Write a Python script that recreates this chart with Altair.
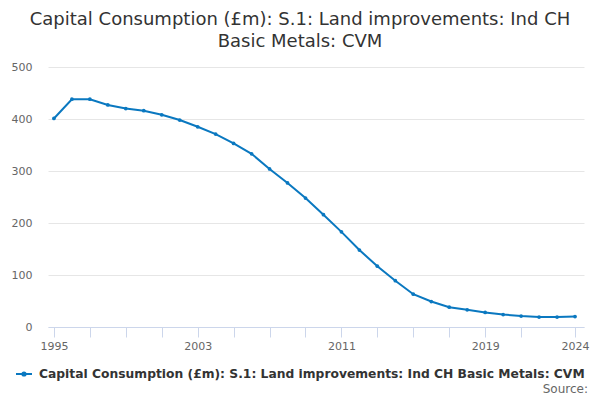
import altair as alt
import pandas as pd

years = list(range(1995, 2025))
values = [401, 438, 438, 427, 420, 416, 408, 398, 385, 371, 353, 333, 304, 277, 248, 216,
          183, 148, 117, 89, 63, 49, 38, 33, 28, 24, 21, 19, 19, 20]
series_name = "Capital Consumption (£m): S.1: Land improvements: Ind CH Basic Metals: CVM"
tick_years = [1995, 1997, 1999, 2001, 2003, 2005, 2007, 2009, 2011, 2013, 2015, 2017, 2019, 2021, 2024]
label_years = [1995, 2003, 2011, 2019, 2024]
y_ticks = [0, 100, 200, 300, 400, 500]
title_lines = ["Capital Consumption (£m): S.1: Land improvements: Ind CH", "Basic Metals: CVM"]
source_text = ["Source:"]

df = pd.DataFrame({"year": years, "value": values, "series": series_name})
src = pd.DataFrame({"t": source_text})

LINE_COLOR = "#0a78c0"
FONT = "DejaVu Sans"

label_expr = "(" + " || ".join("datum.value == %d" % y for y in label_years) + ") ? format(datum.value, 'd') : ''"

x = alt.X("year:Q",
          scale=alt.Scale(domain=[1994.67, 2024.5], nice=False, zero=False),
          axis=alt.Axis(title=None, values=tick_years, labelExpr=label_expr, grid=False,
                        domainColor="#ccd6eb", tickColor="#ccd6eb", tickSize=10,
                        labelColor="#666666", labelFontSize=11, labelFont=FONT,
                        labelPadding=3, labelFlush=False, labelOverlap=False))
y = alt.Y("value:Q",
          scale=alt.Scale(domain=[0, 500], nice=False),
          axis=alt.Axis(title=None, values=y_ticks, grid=True, gridColor="#e6e6e6",
                        domain=False, ticks=False, labelColor="#666666", labelFontSize=11,
                        labelFont=FONT, labelPadding=16))
color = alt.Color("series:N",
                  scale=alt.Scale(range=[LINE_COLOR]),
                  legend=alt.Legend(title=None, orient="none", legendX=-33, legendY=298,
                                    symbolType="M-1,0H1M-0.2,0A0.2,0.2 0 1,1 0.2,0A0.2,0.2 0 1,1 -0.2,0",
                                    symbolSize=256, symbolStrokeWidth=2, symbolStrokeColor=LINE_COLOR,
                                    labelFont=FONT, labelFontSize=12.3, labelFontWeight="bold",
                                    labelColor="#333333", labelLimit=1000, labelOffset=6))

line = alt.Chart(df).mark_line(strokeWidth=2).encode(x=x, y=y, color=color)
pts = alt.Chart(df).mark_point(filled=True, size=14, opacity=1, color=LINE_COLOR).encode(x=x, y=y)
source = alt.Chart(src).mark_text(align="right", baseline="middle", font=FONT, fontSize=12,
                                  color="#666666").encode(
    text="t:N", x=alt.value(540), y=alt.value(322))

chart = alt.layer(line, pts, source).properties(
    width=536, height=260,
    title=alt.TitleParams(text=title_lines, anchor="middle", font=FONT, fontSize=18,
                          fontWeight="normal", color="#333333", lineHeight=22, offset=10, dx=-16),
    autosize=alt.AutoSizeParams(type="none"),
    padding={"left": 40, "top": 59, "right": 8, "bottom": 72},
).configure_view(stroke=None)

chart.save("out.html", embed_options={"renderer": "svg", "actions": False})
